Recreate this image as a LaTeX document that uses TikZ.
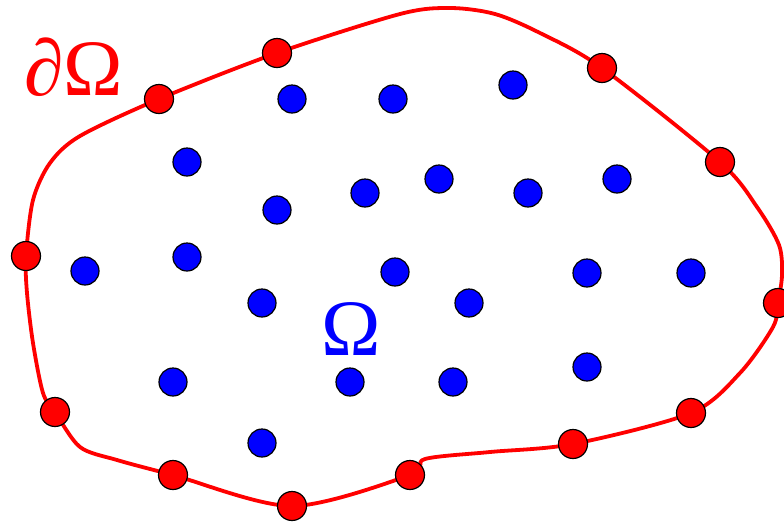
\documentclass[tikz,border=0pt]{standalone}
\usepackage{fontspec}
\newfontfamily\timesfont{Liberation Serif}
\begin{document}
\begin{tikzpicture}[x=1pt,y=-1pt,
  bpt/.style={circle,draw=black,line width=1.2pt,fill=red,minimum size=29pt,inner sep=0pt},
  ipt/.style={circle,draw=black,line width=1.2pt,fill=blue,minimum size=28pt,inner sep=0pt},
  boundary/.style={draw=red,line width=3.8pt,line join=round},
  lbl/.style={inner sep=0pt,font=\timesfont\fontsize{80}{90}\selectfont}]
\useasboundingbox (0,0) rectangle (784,523);
\path[boundary] plot[smooth cycle,tension=0.5] coordinates {
 (26,256) (33,200) (50,163) (80,136) (159,99) (277,53) (400,14)
 (450,8) (495,14) (540,33) (602,68) (720,162) (757,207) (779,245) (782,275) (778,303)
 (773,327) (740,373) (691,413) (573,444) (490,452) (425,459) (410,475)
 (292,506) (173,475) (117,460) (80,447) (55,412) (43,393) (33,343) (27,293)};
% boundary points
\node[bpt] (b1) at (277,53) {};
\node[bpt] (b2) at (602,68) {};
\node[bpt] (b3) at (159,99) {};
\node[bpt] (b4) at (720,162) {};
\node[bpt] (b5) at (26,256) {};
\node[bpt] (b6) at (778,303) {};
\node[bpt] (b7) at (55,412) {};
\node[bpt] (b8) at (691,413) {};
\node[bpt] (b9) at (573,444) {};
\node[bpt] (b10) at (173,475) {};
\node[bpt] (b11) at (410,475) {};
\node[bpt] (b12) at (292,506) {};
% interior points
\node[ipt] (i1) at (292,99) {};
\node[ipt] (i2) at (393,99) {};
\node[ipt] (i3) at (513,85) {};
\node[ipt] (i4) at (187,162) {};
\node[ipt] (i5) at (365,193) {};
\node[ipt] (i6) at (439,179) {};
\node[ipt] (i7) at (528,193) {};
\node[ipt] (i8) at (617,179) {};
\node[ipt] (i9) at (277,210) {};
\node[ipt] (i10) at (85,271) {};
\node[ipt] (i11) at (187,257) {};
\node[ipt] (i12) at (395,272) {};
\node[ipt] (i13) at (587,273) {};
\node[ipt] (i14) at (691,273) {};
\node[ipt] (i15) at (262,303) {};
\node[ipt] (i16) at (469,303) {};
\node[ipt] (i17) at (173,382) {};
\node[ipt] (i18) at (350,382) {};
\node[ipt] (i19) at (453,382) {};
\node[ipt] (i20) at (587,367) {};
\node[ipt] (i21) at (262,443) {};
% labels
\node[lbl,text=red,anchor=base west] (dO) at (24,95) {∂Ω};
\node[lbl,text=blue,anchor=base] (O) at (351,355) {Ω};
\end{tikzpicture}
\end{document}
